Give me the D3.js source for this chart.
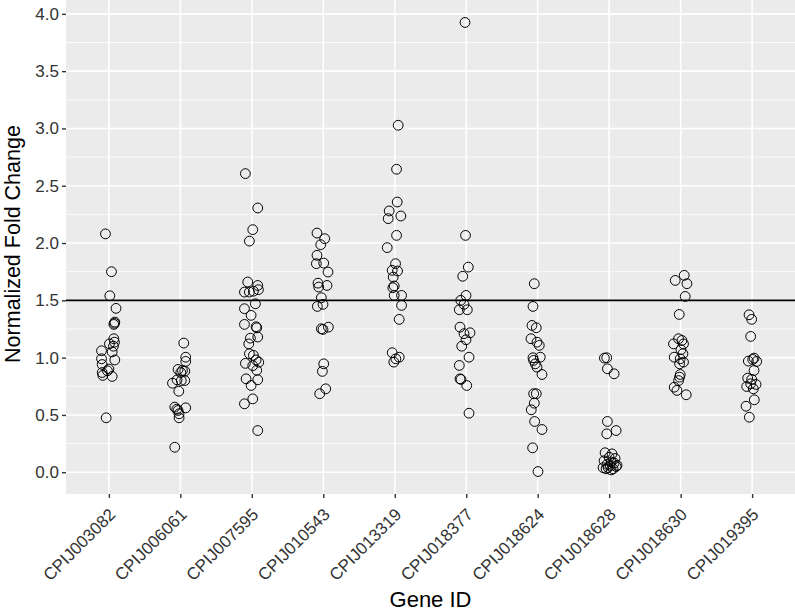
<!DOCTYPE html>
<html>
<head>
<meta charset="utf-8">
<script src="https://cdn.jsdelivr.net/npm/d3@7"></script>
<style>
  html, body { margin: 0; padding: 0; background: #ffffff; }
  svg { display: block; }
  text { font-family: "Liberation Sans", Arial, Helvetica, sans-serif; }
</style>
</head>
<body>
<svg id="chart" width="795" height="614"></svg>
<script>
// ---------------- DATA ----------------
const genes = ["CPIJ003082","CPIJ006061","CPIJ007595","CPIJ010543","CPIJ013319",
               "CPIJ018377","CPIJ018624","CPIJ018628","CPIJ018630","CPIJ019395"];

// Normalized fold change values per gene
const valuesCPIJ003082 = [2.08,1.75,1.54,1.43,1.30,1.29,1.31,1.165,1.135,1.12,1.10,1.06,1.05,0.99,0.98,0.94,0.90,0.885,0.87,0.845,0.836,0.475];
const valuesCPIJ006061 = [1.127,1.004,0.967,0.897,0.888,0.882,0.87,0.806,0.80,0.80,0.777,0.707,0.568,0.562,0.55,0.539,0.51,0.475,0.218];
const valuesCPIJ007595 = [2.606,2.306,2.117,2.017,1.66,1.63,1.572,1.572,1.593,1.58,1.47,1.427,1.369,1.29,1.27,1.26,1.18,1.17,1.12,1.034,1.02,0.98,0.95,0.96,0.93,0.89,0.815,0.807,0.757,0.64,0.597,0.364];
const valuesCPIJ010543 = [2.087,2.038,1.986,1.893,1.82,1.825,1.747,1.65,1.63,1.616,1.523,1.447,1.465,1.252,1.246,1.266,0.946,0.88,0.728,0.685];
const valuesCPIJ013319 = [3.028,2.644,2.358,2.28,2.213,2.236,2.067,1.96,1.82,1.762,1.756,1.703,1.625,1.61,1.543,1.543,1.456,1.334,1.043,1.004,0.961,0.99];
const valuesCPIJ018377 = [3.925,2.067,1.79,1.71,1.543,1.50,1.465,1.418,1.418,1.266,1.217,1.209,1.156,1.10,1.004,0.932,0.815,0.81,0.757,0.515];
const valuesCPIJ018624 = [1.645,1.447,1.281,1.261,1.165,1.135,1.107,0.999,1.004,0.976,0.946,0.917,0.853,0.685,0.685,0.603,0.545,0.443,0.373,0.213,0.006];
const valuesCPIJ018628 = [0.996,0.999,0.903,0.859,0.443,0.364,0.335,0.17,0.16,0.13,0.12,0.10,0.09,0.08,0.07,0.06,0.05,0.04,0.04,0.03,0.03,0.02,0.06];
const valuesCPIJ018630 = [1.718,1.674,1.645,1.534,1.377,1.165,1.15,1.12,1.12,1.069,1.034,1.004,0.99,0.961,0.946,0.853,0.83,0.80,0.742,0.714,0.676];
const valuesCPIJ019395 = [1.374,1.334,1.185,0.996,0.967,0.97,0.984,0.888,0.821,0.81,0.766,0.748,0.772,0.728,0.632,0.576,0.48];

// Horizontal jitter of each point, as a fraction of one category width
const jitterCPIJ003082 = [-0.048,0.036,0.013,0.10,0.078,0.069,0.083,0.069,0.078,0.008,0.064,-0.103,0.046,-0.103,0.083,-0.094,0.0,-0.02,-0.094,-0.085,0.046,-0.038];
const jitterCPIJ006061 = [0.048,0.075,0.075,-0.032,0.029,0.062,0.006,-0.046,0.062,0.013,-0.11,-0.022,-0.078,0.075,-0.05,-0.032,-0.018,-0.018,-0.078];
const jitterCPIJ007595 = [-0.09,0.083,0.013,-0.034,-0.057,0.083,-0.103,-0.034,0.092,0.022,0.05,-0.103,-0.01,-0.103,0.06,0.069,0.083,-0.02,-0.043,-0.034,0.022,0.06,-0.09,0.097,0.013,0.069,-0.08,0.083,-0.01,0.013,-0.103,0.083];
const jitterCPIJ010543 = [-0.088,0.02,-0.036,-0.088,-0.097,0.006,0.066,-0.074,0.052,-0.064,-0.027,-0.083,-0.004,-0.027,-0.004,0.071,0.006,-0.013,0.034,-0.05];
const jitterCPIJ013319 = [0.048,0.025,0.034,-0.078,-0.092,0.085,0.025,-0.106,0.011,-0.036,0.039,-0.022,-0.008,-0.027,-0.008,0.095,0.095,0.062,-0.036,0.062,-0.013,0.015];
const jitterCPIJ018377 = [-0.017,-0.01,0.029,-0.049,-0.003,-0.077,-0.031,-0.097,0.015,-0.087,0.053,-0.031,-0.003,-0.063,0.039,-0.097,-0.087,-0.073,0.007,0.039];
const jitterCPIJ018624 = [-0.048,-0.066,-0.08,-0.02,-0.094,-0.01,0.022,-0.066,0.036,-0.057,-0.034,-0.01,0.06,-0.057,-0.02,-0.048,-0.09,-0.043,0.06,-0.071,0.004];
const jitterCPIJ018628 = [-0.067,-0.034,-0.025,0.069,-0.025,0.097,-0.034,-0.057,0.04,0.0,0.083,-0.071,0.027,0.069,-0.029,0.013,0.097,-0.085,-0.015,0.055,-0.043,0.027,0.11];
const jitterCPIJ018630 = [0.05,-0.076,0.088,0.064,-0.02,-0.029,0.018,-0.1,0.04,0.004,0.032,-0.09,-0.006,0.04,-0.015,-0.006,-0.015,-0.029,-0.09,-0.052,0.078];
const jitterCPIJ019395 = [-0.043,-0.006,-0.02,0.027,0.064,-0.053,0.008,0.027,-0.062,-0.006,0.055,-0.076,-0.02,0.017,0.031,-0.085,-0.039];

const yTicks = [0.0, 0.5, 1.0, 1.5, 2.0, 2.5, 3.0, 3.5, 4.0];
const yMinorTicks = [0.25, 0.75, 1.25, 1.75, 2.25, 2.75, 3.25, 3.75];
const thresholdValue = 1.5;
const xTitle = "Gene ID";
const yTitle = "Normalized Fold Change";

const valueSets = [valuesCPIJ003082,valuesCPIJ006061,valuesCPIJ007595,valuesCPIJ010543,valuesCPIJ013319,
                   valuesCPIJ018377,valuesCPIJ018624,valuesCPIJ018628,valuesCPIJ018630,valuesCPIJ019395];
const jitterSets = [jitterCPIJ003082,jitterCPIJ006061,jitterCPIJ007595,jitterCPIJ010543,jitterCPIJ013319,
                    jitterCPIJ018377,jitterCPIJ018624,jitterCPIJ018628,jitterCPIJ018630,jitterCPIJ019395];

const points = [];
genes.forEach((g, i) => {
  valueSets[i].forEach((v, j) => points.push({gene: g, value: v, jitter: jitterSets[i][j]}));
});

// ---------------- LAYOUT ----------------
const svg = d3.select("#chart");
const panel = {left: 66, right: 795, top: 0, bottom: 494};

const allVals = points.map(d => d.value);
const vmin = d3.min(allVals), vmax = d3.max(allVals);
const pad = (vmax - vmin) * 0.05;

const y = d3.scaleLinear().domain([vmin - pad, vmax + pad]).range([panel.bottom, panel.top]);
const x = d3.scalePoint().domain(genes).range([panel.left, panel.right]).padding(0.6);
const step = x.step();

// background
svg.append("rect")
  .attr("x", panel.left).attr("y", panel.top)
  .attr("width", panel.right - panel.left).attr("height", panel.bottom - panel.top)
  .attr("fill", "#EBEBEB");

// minor grid
svg.append("g").selectAll("line").data(yMinorTicks).join("line")
  .attr("x1", panel.left).attr("x2", panel.right)
  .attr("y1", d => y(d)).attr("y2", d => y(d))
  .attr("stroke", "#ffffff").attr("stroke-width", 0.8);

// major grid
svg.append("g").selectAll("line").data(yTicks).join("line")
  .attr("x1", panel.left).attr("x2", panel.right)
  .attr("y1", d => y(d)).attr("y2", d => y(d))
  .attr("stroke", "#ffffff").attr("stroke-width", 1.6);
svg.append("g").selectAll("line").data(genes).join("line")
  .attr("x1", d => x(d)).attr("x2", d => x(d))
  .attr("y1", panel.top).attr("y2", panel.bottom)
  .attr("stroke", "#ffffff").attr("stroke-width", 1.6);

// threshold line
svg.append("line")
  .attr("x1", panel.left).attr("x2", panel.right)
  .attr("y1", y(thresholdValue)).attr("y2", y(thresholdValue))
  .attr("stroke", "#000000").attr("stroke-width", 1.7);

// points
svg.append("g").selectAll("circle").data(points).join("circle")
  .attr("cx", d => x(d.gene) + d.jitter * step)
  .attr("cy", d => y(d.value))
  .attr("r", 4.9)
  .attr("fill", "none")
  .attr("stroke", "#000000")
  .attr("stroke-width", 1.0);

// y axis
const yAxis = d3.axisLeft(y).tickValues(yTicks).tickFormat(d3.format(".1f")).tickSize(4).tickPadding(3);
const gy = svg.append("g").attr("transform", `translate(${panel.left},0)`).call(yAxis);
gy.select(".domain").remove();
gy.selectAll(".tick line").attr("stroke", "#333333").attr("stroke-width", 1.4);
gy.selectAll(".tick text").attr("fill", "#333333").attr("font-size", 17)
  .attr("font-family", '"Liberation Sans", Arial, sans-serif');

// x axis
const xAxis = d3.axisBottom(x).tickSize(4).tickPadding(3);
const gx = svg.append("g").attr("transform", `translate(0,${panel.bottom})`).call(xAxis);
gx.select(".domain").remove();
gx.selectAll(".tick line").attr("stroke", "#333333").attr("stroke-width", 1.4);
gx.selectAll(".tick text")
  .attr("fill", "#333333").attr("font-size", 17)
  .attr("font-family", '"Liberation Sans", Arial, sans-serif')
  .attr("text-anchor", "end")
  .attr("x", -1.5).attr("y", 13).attr("dy", "0.72em")
  .attr("transform", "rotate(-45, -1.5, 13)");

// titles
svg.append("text")
  .attr("x", (panel.left + panel.right) / 2).attr("y", 607)
  .attr("text-anchor", "middle").attr("font-size", 22).attr("fill", "#000")
  .text(xTitle);
svg.append("text")
  .attr("transform", `translate(19.5,244) rotate(-90)`)
  .attr("text-anchor", "middle").attr("font-size", 21.5).attr("fill", "#000")
  .text(yTitle);
</script>
</body>
</html>
